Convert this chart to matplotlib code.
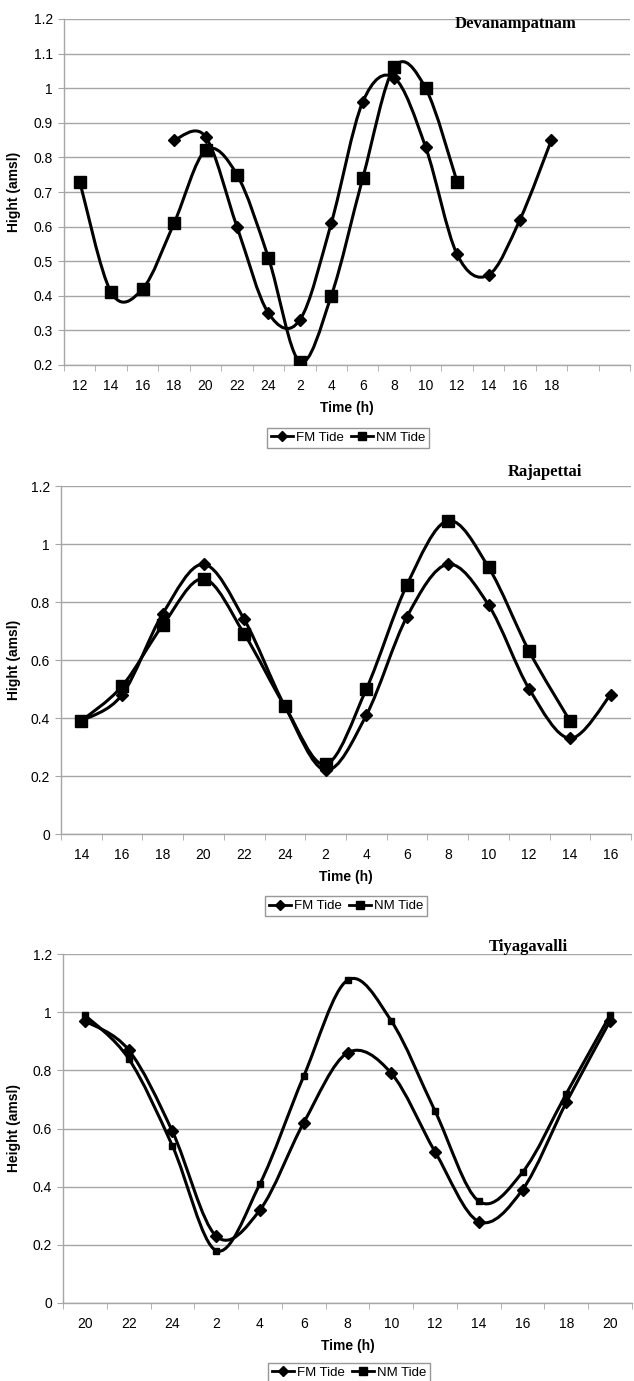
import numpy as np
import matplotlib.pyplot as plt
from matplotlib.path import Path
from matplotlib.patches import PathPatch
from matplotlib.lines import Line2D

# Devanampatnam
dev_hours = ["12", "14", "16", "18", "20", "22", "24", "2", "4", "6", "8", "10",
             "12", "14", "16", "18", "", ""]
dev_fm = [None, None, None, 0.85, 0.86, 0.60, 0.35, 0.33, 0.61, 0.96, 1.03, 0.83,
          0.52, 0.46, 0.62, 0.85, None, None]
dev_nm = [0.73, 0.41, 0.42, 0.61, 0.82, 0.75, 0.51, 0.21, 0.40, 0.74, 1.06, 1.00,
          0.73, None, None, None, None, None]

# Rajapettai
raj_hours = ["14", "16", "18", "20", "22", "24", "2", "4", "6", "8", "10", "12", "14", "16"]
raj_fm = [0.39, 0.48, 0.76, 0.93, 0.74, 0.44, 0.22, 0.41, 0.75, 0.93, 0.79, 0.50, 0.33, 0.48]
raj_nm = [0.39, 0.51, 0.72, 0.88, 0.69, 0.44, 0.24, 0.50, 0.86, 1.08, 0.92, 0.63, 0.39, None]

# Tiyagavalli
tiy_hours = ["20", "22", "24", "2", "4", "6", "8", "10", "12", "14", "16", "18", "20"]
tiy_fm = [0.97, 0.87, 0.59, 0.23, 0.32, 0.62, 0.86, 0.79, 0.52, 0.28, 0.39, 0.69, 0.97]
tiy_nm = [0.99, 0.84, 0.54, 0.18, 0.41, 0.78, 1.11, 0.97, 0.66, 0.35, 0.45, 0.72, 0.99]

SANS = "Liberation Sans"
SERIF = "Liberation Serif"
GRID = "#a6a6a6"
W, H = 634, 1381


def smooth_path(x, y):
    # cubic bezier through the points, like a spreadsheet "smoothed line"
    pts = np.column_stack([x, y])
    n = len(pts)
    verts = [pts[0]]
    codes = [Path.MOVETO]
    for i in range(n - 1):
        p0 = pts[i - 1] if i > 0 else pts[i]
        p1 = pts[i]
        p2 = pts[i + 1]
        p3 = pts[i + 2] if i + 2 < n else pts[i + 1]
        c1 = p1 + (p2 - p0) / 6.0
        c2 = p2 - (p3 - p1) / 6.0
        verts += [c1, c2, p2]
        codes += [Path.CURVE4] * 3
    return Path(verts, codes)


def draw_series(ax, values, marker, ms):
    x = np.array([i for i, v in enumerate(values) if v is not None], dtype=float)
    y = np.array([v for v in values if v is not None], dtype=float)
    ax.add_patch(PathPatch(smooth_path(x, y), facecolor="none", edgecolor="black",
                           lw=2.2, zorder=3))
    ax.plot(x, y, ls="none", marker=marker, ms=ms, color="black", zorder=4)


def panel(box, hours, fm, nm, ylim, ystep, ylabel, title, title_xy, nm_ms, leg_xy):
    # box = (left, top, right, bottom) in pixels
    l, t, r, b = box
    ax = fig.add_axes([l / W, 1 - b / H, (r - l) / W, (b - t) / H])
    n = len(hours)
    draw_series(ax, fm, "D", 6)
    draw_series(ax, nm, "s", nm_ms)
    ax.set_xlim(-0.5, n - 0.5)
    ax.set_ylim(*ylim)
    yt = np.round(np.arange(ylim[0], ylim[1] + 1e-9, ystep), 2)
    ax.set_yticks(yt)
    ax.set_yticklabels([f"{v:g}" for v in yt], fontsize=10, family=SANS)
    ax.set_xticks(np.arange(n))
    ax.set_xticklabels(hours, fontsize=10, family=SANS)
    ax.set_xticks(np.arange(n + 1) - 0.5, minor=True)
    ax.tick_params(axis="x", which="major", length=0, pad=10)
    ax.tick_params(axis="x", which="minor", length=4, color=GRID, direction="out")
    ax.tick_params(axis="y", length=4, color=GRID, pad=4)
    ax.grid(axis="y", color=GRID, lw=1.0)
    ax.set_axisbelow(True)
    for s in ("top", "right"):
        ax.spines[s].set_visible(False)
    for s in ("left", "bottom"):
        ax.spines[s].set_color(GRID)
        ax.spines[s].set_linewidth(1.0)
    ax.set_xlabel("Time (h)", fontsize=10, fontweight="bold", family=SANS, labelpad=6)
    ax.set_ylabel(ylabel, fontsize=10, fontweight="bold", family=SANS)
    ax.yaxis.set_label_coords((21 - l) / (r - l), 0.5)
    fig.text(title_xy[0] / W, 1 - title_xy[1] / H, title, ha="center", va="center",
             fontsize=12, fontweight="bold", family=SERIF)
    handles = [Line2D([], [], color="black", lw=2, marker="D", ms=5),
               Line2D([], [], color="black", lw=2, marker="s", ms=6)]
    leg = fig.legend(handles, ["FM Tide", "NM Tide"], loc="center",
                     bbox_to_anchor=(leg_xy[0] / W, 1 - leg_xy[1] / H), ncol=2,
                     frameon=True, fancybox=False, handlelength=1.7, handletextpad=0.2,
                     columnspacing=0.5, borderpad=0.3, borderaxespad=0,
                     prop={"family": SANS, "size": 9.5})
    leg.get_frame().set_edgecolor("#7f7f7f")
    leg.get_frame().set_linewidth(1.0)
    return ax


fig = plt.figure(figsize=(W / 100, H / 100), dpi=100)

panel((64, 19, 630, 365), dev_hours, dev_fm, dev_nm, (0.2, 1.2), 0.1,
      "Hight (amsl)", "Devanampatnam", (516, 24), 8.5, (348, 438))
panel((61, 486, 631, 834), raj_hours, raj_fm, raj_nm, (0.0, 1.2), 0.2,
      "Hight (amsl)", "Rajapettai", (545, 472), 8.5, (346, 906))
panel((63, 954, 632, 1303), tiy_hours, tiy_fm, tiy_nm, (0.0, 1.2), 0.2,
      "Height (amsl)", "Tiyagavalli", (528, 947), 4.5, (349, 1373))

fig.savefig("out.png", dpi=100)
